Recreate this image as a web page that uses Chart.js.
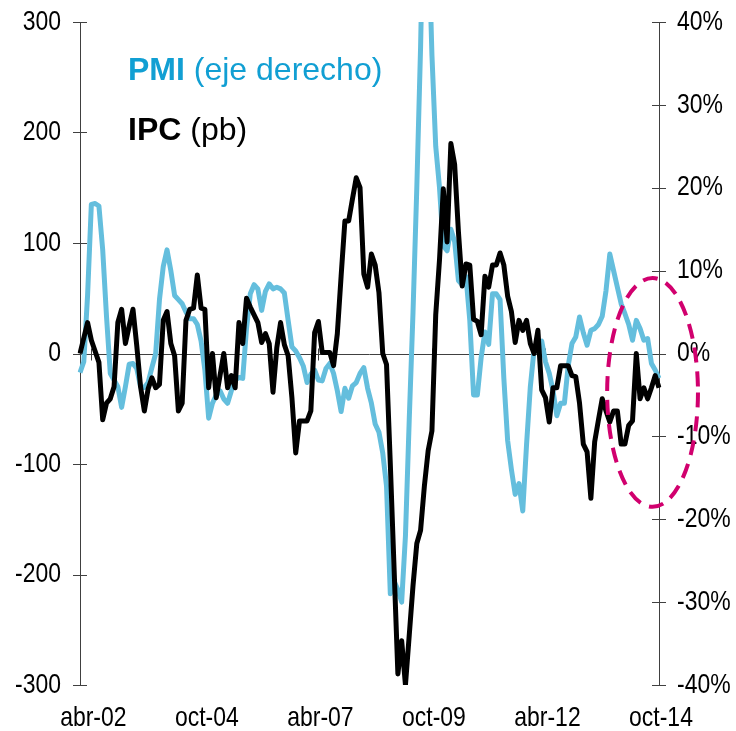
<!DOCTYPE html>
<html>
<head>
<meta charset="utf-8">
<script src="https://cdn.jsdelivr.net/npm/chart.js@4.4.1/dist/chart.umd.min.js"></script>
<style>
  html, body { margin: 0; padding: 0; background: #fff; }
  #wrap { width: 736px; height: 731px; position: relative; }
</style>
</head>
<body>
<div id="wrap"><canvas id="chart"></canvas></div>
<script>
// monthly categories, ene-02 .. oct-14
const monthNames = ['ene', 'feb', 'mar', 'abr', 'may', 'jun', 'jul', 'ago', 'sep', 'oct', 'nov', 'dic'];
const firstYear = 2002;
const monthCount = 154;
const months = [];
for (let i = 0; i < monthCount; i++) {
    const yy = String((firstYear + Math.floor(i / 12)) % 100).padStart(2, '0');
    months.push(monthNames[i % 12] + '-' + yy);
}
const shownLabels = ['abr-02', 'oct-04', 'abr-07', 'oct-09', 'abr-12', 'oct-14'];

// IPC (pb), left axis
const ipc = [
    0, 14, 28, 12, 2, -8, -60, -45, -41, -30,
    28, 40, 9, 25, 40, 7, -30, -52, -32, -22,
    -31, -28, 30, 38, 9, -2, -52, -45, 30, 40,
    41, 71, 41, 40, -31, 0, -40, -20, 0, -31,
    -20, -31, 28, 9, 50, 42, 35, 28, 10, 18,
    9, -35, 5, 28, 8, -2, -40, -90, -61, -61,
    -61, -52, 19, 29, 1, 1, 1, -11, 18, 70,
    120, 120, 140, 159, 150, 72, 60, 90, 80, 55,
    0, -10, -100, -195, -290, -260, -300, -255, -210, -172,
    -160, -120, -88, -70, 35, 85, 149, 101, 190, 171,
    110, 61, 81, 80, 31, 29, 17, 70, 60, 80,
    80, 91, 80, 52, 38, 10, 30, 21, 30, 9,
    0, 21, -33, -40, -62, -31, -31, -11, -11, -11,
    -20, -21, -45, -82, -89, -131, -80, -60, -41, -52,
    -62, -52, -52, -82, -82, -65, -61, 0, -41, -31,
    -41, -31, -20, -31
];

// PMI (%), right axis
const pmi = [
    -2.3, -1, 7, 18, 18.1, 17.8, 12.5, 4.5, -2.4, -3.2,
    -4, -6.5, -4, -1.3, -1.2, -1.8, -4, -4.1, -3.5, -1.7,
    0, 6.5, 10.5, 12.5, 10, 7, 6.5, 6, 5, 4.2,
    4.2, 3.5, 1.5, -2, -7.8, -6, -5, -4.5, -5.5, -6,
    -4.5, -3.2, -2.9, -3, 3, 7.2, 8.3, 7.8, 5.2, 7.5,
    8.4, 7.8, 8, 7.8, 7.3, 4, 0.8, 0.3, -0.5, -1.5,
    -3.5, -2.5, -2, -3.2, -3.3, -1.8, -1.2, -2.4, -4.5, -7,
    -4.2, -5.4, -3.9, -3.5, -2.4, -1.7, -4.2, -6, -8.5, -9.5,
    -12, -16, -29, -27.5, -28.5, -30, -22, -8, 5, 20,
    37, 60, 52, 36, 25, 20, 13, 12.4, 15, 13.5,
    8.8, 8.3, 9.3, 4, -5, -5, -0.5, 2.6, 1.1, 7.2,
    7.2, 6.5, -3, -10.5, -14, -17, -15.7, -19, -11, -4,
    0.5, 1.2, 1.5, -1, -2.4, -4.5, -7.5, -6, -6, -1.5,
    1.2, 2, 4.4, 2.5, 1, 2.8, 3, 3.5, 4.5, 7.6,
    12, 10, 8, 6, 4.8, 3.5, 1.6, 4, 3, 1.6,
    1.8, -1.2, -2, -3
];

const labelFont = "28px 'Liberation Sans', Arial, sans-serif";
const narrow = 0.82;   // squeeze to look like Arial Narrow
const axisColor = '#404040';

// dashed ring drawn round the last months
const ring = { month: 151.3, pct: -4.7, halfMonths: 12, halfPct: 13.8 };

function narrowText(ctx, text, px, py, align) {
    ctx.save();
    ctx.translate(px, py);
    ctx.scale(narrow, 1);
    ctx.textAlign = align;
    ctx.fillText(text, 0, 0);
    ctx.restore();
}

const overlay = {
    id: 'overlay',
    beforeDatasetsDraw(chart) {
        const { ctx, chartArea: a, scales: { x, y, y1 } } = chart;
        ctx.save();
        ctx.strokeStyle = axisColor;
        ctx.lineWidth = 1;
        ctx.beginPath();
        const y0 = Math.round(y.getPixelForValue(0)) + 0.5;
        ctx.moveTo(a.left, y0);
        ctx.lineTo(a.right, y0);
        y.ticks.forEach(t => {
            const py = Math.round(y.getPixelForValue(t.value)) + 0.5;
            ctx.moveTo(a.left - 7, py);
            ctx.lineTo(a.left + 7, py);
        });
        y1.ticks.forEach(t => {
            const py = Math.round(y1.getPixelForValue(t.value)) + 0.5;
            ctx.moveTo(a.right - 7, py);
            ctx.lineTo(a.right + 7, py);
        });
        shownLabels.forEach(l => {
            const px = Math.round(x.getPixelForValue(months.indexOf(l))) + 0.5;
            ctx.moveTo(px, y0 - 6);
            ctx.lineTo(px, y0 + 6);
        });
        ctx.stroke();

        // tick labels
        ctx.fillStyle = '#000';
        ctx.font = labelFont;
        ctx.textBaseline = 'middle';
        y.ticks.forEach(t => {
            narrowText(ctx, String(t.value), a.left - 19, y.getPixelForValue(t.value), 'right');
        });
        y1.ticks.forEach(t => {
            narrowText(ctx, t.value + '%', a.right + 18, y1.getPixelForValue(t.value), 'left');
        });
        shownLabels.forEach(l => {
            narrowText(ctx, l, x.getPixelForValue(months.indexOf(l)) + 2, a.bottom + 33, 'center');
        });
        ctx.restore();
    },
    afterDraw(chart) {
        const { ctx, scales: { x, y1 } } = chart;
        ctx.save();
        // legend text
        ctx.textBaseline = 'alphabetic';
        ctx.textAlign = 'left';
        const lx = 128;
        ctx.fillStyle = '#119fd3';
        ctx.font = "bold 32px 'Liberation Sans', Arial, sans-serif";
        ctx.fillText('PMI', lx, 80);
        let w = ctx.measureText('PMI').width;
        ctx.font = "32px 'Liberation Sans', Arial, sans-serif";
        ctx.fillText(' (eje derecho)', lx + w, 80);
        ctx.fillStyle = '#000';
        ctx.font = "bold 32px 'Liberation Sans', Arial, sans-serif";
        ctx.fillText('IPC', lx, 140);
        w = ctx.measureText('IPC').width;
        ctx.font = "32px 'Liberation Sans', Arial, sans-serif";
        ctx.fillText(' (pb)', lx + w, 140);

        // dashed ellipse
        const cx = x.getPixelForValue(ring.month);
        const cy = y1.getPixelForValue(ring.pct);
        const rx = x.getPixelForValue(ring.month + ring.halfMonths) - cx;
        const ry = cy - y1.getPixelForValue(ring.pct + ring.halfPct);
        ctx.strokeStyle = '#d1006e';
        ctx.lineWidth = 4;
        ctx.setLineDash([15, 9]);
        ctx.beginPath();
        ctx.ellipse(cx, cy, rx, ry, 0, 0, Math.PI * 2);
        ctx.stroke();
        ctx.restore();
    }
};

new Chart(document.getElementById('chart'), {
    type: 'line',
    data: {
        labels: months,
        datasets: [
            {
                label: 'IPC (pb)',
                data: ipc,
                yAxisID: 'y',
                borderColor: '#000000',
                borderWidth: 5,
                pointRadius: 0,
                tension: 0,
                borderJoinStyle: 'round',
                order: 0
            },
            {
                label: 'PMI (eje derecho)',
                data: pmi,
                yAxisID: 'y1',
                borderColor: '#64bedd',
                borderWidth: 5,
                pointRadius: 0,
                tension: 0,
                borderJoinStyle: 'round',
                order: 1
            }
        ]
    },
    options: {
        responsive: true,
        maintainAspectRatio: false,
        animation: false,
        layout: { padding: { left: 80, right: 77, top: 22, bottom: 46 } },
        plugins: {
            legend: { display: false },
            tooltip: { enabled: false }
        },
        scales: {
            x: {
                type: 'category',
                offset: false,
                grid: { display: false, drawTicks: false },
                border: { display: false },
                ticks: { display: false, autoSkip: false }
            },
            y: {
                position: 'left',
                min: -300,
                max: 300,
                grid: { display: false, drawTicks: false },
                border: { display: true, color: axisColor, width: 1 },
                ticks: { display: false, stepSize: 100 }
            },
            y1: {
                position: 'right',
                min: -40,
                max: 40,
                grid: { display: false, drawTicks: false },
                border: { display: true, color: axisColor, width: 1 },
                ticks: { display: false, stepSize: 10 }
            }
        }
    },
    plugins: [overlay]
});
</script>
</body>
</html>
